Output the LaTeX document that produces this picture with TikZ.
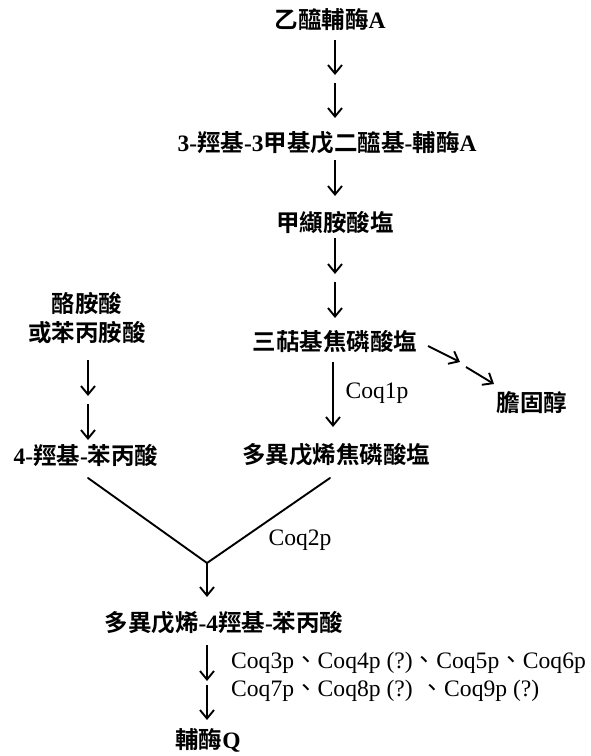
\documentclass[tikz,border=0pt]{standalone}
\usepackage{fontspec}
\setmainfont{Liberation Serif}
\newfontfamily\cjk{Noto Sans CJK TC}[BoldFont={* Bold}]
\newcommand\zh[1]{{\cjk #1}}
\usetikzlibrary{arrows.meta}
\begin{document}
\begin{tikzpicture}[x=1pt,y=-1pt,
  lbl/.style={font=\fontsize{23.5}{29}\selectfont\bfseries, inner sep=0pt},
  enz/.style={font=\fontsize{23.6}{28}\selectfont, inner sep=0pt},
  arr/.style={line width=1.9pt, -{Straight Barb[length=8.5pt,width=14pt]}},
  ln/.style={line width=1.9pt, line cap=round}]
\useasboundingbox (0,0) rectangle (591,756);
\fill[white] (0,0) rectangle (591,756);

\node[lbl] (acoa) at (330,20) {\zh{乙醯輔酶}A};
\node[lbl] (hmg) at (327,143) {3-\zh{羥基}-3\zh{甲基戊二醯基}-\zh{輔酶}A};
\node[lbl] (mev) at (335,222) {\zh{甲纈胺酸塩}};
\node[lbl] (fpp) at (335,342) {\zh{三萜基焦磷酸塩}};
\node[lbl] (chol) at (532,403) {\zh{膽固醇}};
\node[lbl] (dpp) at (336,455) {\zh{多異戊烯焦磷酸塩}};
\node[lbl, align=center] (tyr) at (87,318) {\zh{酪胺酸}\\\zh{或苯丙胺酸}};
\node[lbl] (hba) at (86,455) {4-\zh{羥基}-\zh{苯丙酸}};
\node[lbl] (phb) at (224,623) {\zh{多異戊烯}-4\zh{羥基}-\zh{苯丙酸}};
\node[enz, anchor=west, align=left] (coqs) at (231,677) {Coq3p\zh{、}Coq4p (?)\zh{、}Coq5p\zh{、}Coq6p\\Coq7p\zh{、}Coq8p (?) \zh{、}Coq9p (?)};
\node[lbl] (q) at (208,740) {\zh{輔酶}Q};
\node[enz] (c1) at (377,393) {Coq1p};
\node[enz] (c2) at (300,540) {Coq2p};

% coordinates for arrow ends
\coordinate (a1s) at (335,40);  \coordinate (a1e) at (335,75);
\coordinate (a2s) at (335,83);  \coordinate (a2e) at (335,118);
\coordinate (b1s) at (335,160); \coordinate (b1e) at (335,196);
\coordinate (c1s) at (335,238); \coordinate (c1e) at (335,274);
\coordinate (c2s) at (335,282); \coordinate (c2e) at (335,318);
\coordinate (d1s) at (333,362); \coordinate (d1e) at (333,427);
\coordinate (e1s) at (428,346); \coordinate (e1e) at (460,362);
\coordinate (e2s) at (466,367); \coordinate (e2e) at (494,384);
\coordinate (f1s) at (88,360);  \coordinate (f1e) at (88,396);
\coordinate (f2s) at (88,404);  \coordinate (f2e) at (88,440);
\coordinate (vl) at (88,478);   \coordinate (vr) at (330,478);
\coordinate (vm) at (207,563);  \coordinate (ve) at (207,597);
\coordinate (g1s) at (207,645); \coordinate (g1e) at (207,681);
\coordinate (g2s) at (207,685); \coordinate (g2e) at (207,720);

\draw[arr] (a1s) -- (a1e);
\draw[arr] (a2s) -- (a2e);
\draw[arr] (b1s) -- (b1e);
\draw[arr] (c1s) -- (c1e);
\draw[arr] (c2s) -- (c2e);
\draw[arr] (d1s) -- (d1e);
\draw[arr] (e1s) -- (e1e);
\draw[arr] (e2s) -- (e2e);
\draw[arr] (f1s) -- (f1e);
\draw[arr] (f2s) -- (f2e);
\draw[ln] (vl) -- (vm) -- (vr);
\draw[arr] (vm) -- (ve);
\draw[arr] (g1s) -- (g1e);
\draw[arr] (g2s) -- (g2e);
\end{tikzpicture}
\end{document}
